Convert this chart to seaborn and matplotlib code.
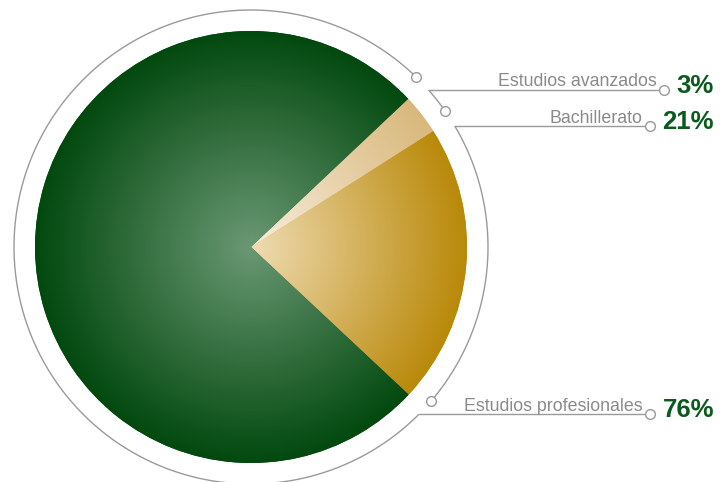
import matplotlib

matplotlib.use("Agg")
import matplotlib.pyplot as plt
import numpy as np
import seaborn as sns

# data, in the order the wedges are drawn (counter-clockwise)
categories = ["Bachillerato", "Estudios avanzados", "Estudios profesionales"]
shares = [21, 3, 76]
pct_labels = ["21%", "3%", "76%"]

# (center colour, edge colour) of each wedge's radial gradient
wedge_gradients = [
    ("#f0dcb4", "#b98909"),
    ("#f7eedd", "#d9b87c"),
    ("#6a9873", "#02490f"),
]

W, H = 721, 482
CX, CY = 251, H - 247
R_PIE = 216
R_RING = 237
START_ANGLE = -43.1
PAD_START = 2.6   # ring gap after a wedge starts (marker end)
PAD_END = 1.8     # ring gap before a wedge ends (leader end)
LINE_GRAY = "#9a9a9a"
TEXT_GRAY = "#8a8a8a"
PCT_GREEN = "#0b5a1d"
PCT_RIGHT = 714


def ring_point(angle_deg):
    a = np.deg2rad(angle_deg)
    return CX + R_RING * np.cos(a), CY + R_RING * np.sin(a)


sns.set_theme(style="white")
plt.rcParams["font.family"] = ["Liberation Sans", "DejaVu Sans"]

fig = plt.figure(figsize=(W / 100, H / 100), dpi=100)
ax = fig.add_axes([0, 0, 1, 1])

wedges, _ = ax.pie(
    shares,
    startangle=START_ANGLE,
    counterclock=True,
    radius=R_PIE,
    center=(CX, CY),
    colors=[g[1] for g in wedge_gradients],
    wedgeprops=dict(linewidth=0),
)

# radial gradient fill clipped to every wedge
gx, gy = np.meshgrid(np.linspace(-1, 1, 600), np.linspace(-1, 1, 600))
dist = np.clip(np.hypot(gx, gy), 0, 1)
extent = [CX - R_PIE, CX + R_PIE, CY - R_PIE, CY + R_PIE]
for wedge, (c0, c1) in zip(wedges, wedge_gradients):
    cmap = sns.blend_palette([c0, c1], as_cmap=True)
    img = ax.imshow(dist, cmap=cmap, vmin=0, vmax=1, extent=extent, origin="lower",
                    interpolation="bilinear", zorder=2)
    img.set_clip_path(wedge)

# fix the axes to pixel units before measuring any text
ax.set_xlim(0, W)
ax.set_ylim(0, H)
ax.set_aspect("equal", adjustable="box")
ax.axis("off")

fig.canvas.draw()
renderer = fig.canvas.get_renderer()

for wedge, cat, pct in zip(wedges, categories, pct_labels):
    a0 = wedge.theta1 + PAD_START
    a1 = wedge.theta2 - PAD_END
    angles = np.linspace(a0, a1, 200)
    xs, ys = ring_point(angles)
    ax.plot(xs, ys, color=LINE_GRAY, lw=1, zorder=3, solid_capstyle="butt")
    mx, my = ring_point(a0)
    ax.plot(mx, my, "o", ms=7, mfc="white", mec=LINE_GRAY, mew=1, zorder=4)

    lx, ly = ring_point(a1)
    pct_txt = ax.text(PCT_RIGHT, ly + 4, pct, ha="right", va="center", fontsize=18.5,
                      fontweight="bold", color=PCT_GREEN, zorder=5)
    bb = pct_txt.get_window_extent(renderer).transformed(ax.transData.inverted())
    dot_x = bb.x0 - 13
    ax.plot([lx, dot_x], [ly, ly], color=LINE_GRAY, lw=1, zorder=3)
    ax.plot(dot_x, ly, "o", ms=7, mfc="white", mec=LINE_GRAY, mew=1, zorder=4)
    ax.text(dot_x - 7, ly + 3.5, cat, ha="right", va="baseline", fontsize=12.8,
            color=TEXT_GRAY, zorder=5)

fig.savefig("out.png", dpi=100, facecolor="white")
plt.close(fig)
